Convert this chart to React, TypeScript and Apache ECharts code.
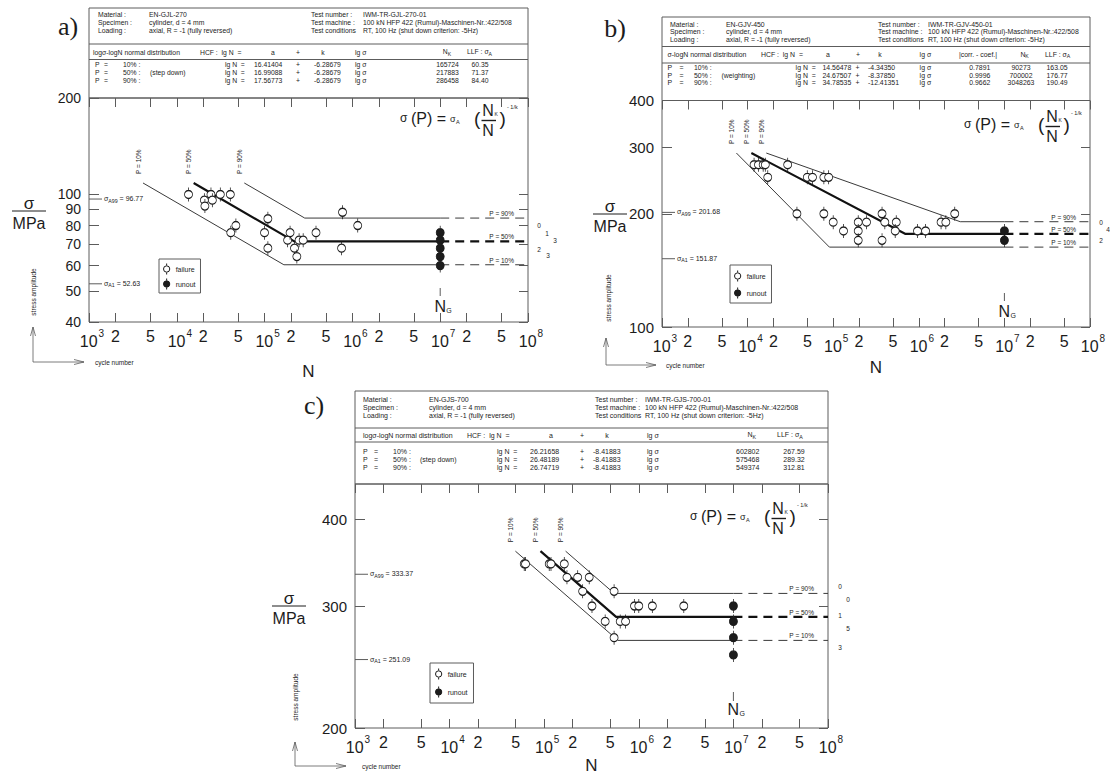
import React, { useEffect, useRef } from 'react';
import * as echarts from 'echarts';

const SANS = '"Liberation Sans", Arial, Helvetica, sans-serif';
const SERIF = '"Liberation Serif", "Times New Roman", Times, serif';
const INK = '#1c1c1c';
const FRAME = '#5c5c5c';
const CURVE = '#3a3a3a';

// ---- shared axis data ----
const N_TICKS = [1e3, 2e3, 5e3, 1e4, 2e4, 5e4, 1e5, 2e5, 5e5, 1e6, 2e6, 5e6, 1e7, 2e7, 5e7, 1e8];
const N_MIN = 1e3;
const N_MAX = 1e8;
const N_G = 1e7;
const P_LABELS = ['P = 10%', 'P = 50%', 'P = 90%'];
const PCT_LABELS = ['10% :', '50% :', '90% :'];
// open / filled circle with a short vertical bar through it
const DOT_SYMBOL = 'path://M5,0L5,2.6M5,11.4L5,14M9,7A4,4,0,1,1,1,7A4,4,0,1,1,9,7Z';

// ---- a) EN-GJL-270 ----
const A_Y_TICKS = [40, 50, 60, 70, 80, 90, 100, 200];
const A_Y_RANGE = [40, 200];
const A_FAILURE: [number, number][] = [
  [13600, 100], [20600, 96], [20900, 92], [24500, 100], [25400, 96], [31300, 100], [40700, 100],
  [41200, 76], [47100, 80], [99800, 76], [109000, 84], [109000, 68], [183000, 72], [195000, 76],
  [219000, 68], [233000, 64], [247000, 72], [275000, 72], [385000, 76], [753000, 68], [772000, 88],
  [1150000, 80],
];
const A_RUNOUT: [number, number][] = [[1e7, 76], [1e7, 72], [1e7, 68], [1e7, 64], [1e7, 60]];
const A_START_N = [4123, 15560, 58740];
const A_START_S = 108.6;
const A_KNEE_N = [165724, 217883, 286458];
const A_KNEE_S = [60.35, 71.37, 84.4];
const A_COEF_A = ['16.41404', '16.99088', '17.56773'];
const A_COEF_K = ['-6.28679', '-6.28679', '-6.28679'];
const A_NOTE = ['', '(step down)', ''];
const A_SIGMA_A99 = 96.77;
const A_SIGMA_A1 = 52.63;
const A_INFO = [
  ['Material :', 'EN-GJL-270', 'Test number :', 'IWM-TR-GJL-270-01'],
  ['Specimen :', 'cylinder, d = 4 mm', 'Test machine :', '100 kN HFP 422 (Rumul)-Maschinen-Nr.:422/508'],
  ['Loading :', 'axial, R = -1 (fully reversed)', 'Test conditions', 'RT, 100 Hz (shut down criterion: -5Hz)'],
];
const A_COUNTS: [string, number, number, number][] = [
  ['0', 11, 2, 7], ['1', 19, 1, -8], ['3', 27, 1, -1], ['2', 11, 1, 8], ['3', 20, 0, -9],
];

// ---- b) EN-GJV-450 ----
const B_Y_TICKS = [100, 200, 300, 400];
const B_Y_RANGE = [100, 400];
const B_FAILURE: [number, number][] = [
  [11900, 270], [13400, 270], [15200, 270], [16100, 270], [17200, 250], [29400, 270], [37700, 200],
  [49800, 250], [57300, 250], [77800, 250], [88500, 250], [77800, 200], [100000, 190], [132000, 180],
  [196000, 190], [196000, 180], [196000, 170], [245000, 190], [372000, 200], [372000, 170],
  [401000, 190], [545000, 190], [530000, 180], [966000, 180], [1200000, 180], [1820000, 190],
  [2070000, 190], [2630000, 200],
];
const B_RUNOUT: [number, number][] = [[1e7, 180], [1e7, 170]];
const B_START_N = [7403, 11063, 16534];
const B_START_S = 290;
const B_KNEE_N = [90273, 700002, 3048263];
const B_KNEE_S = [163.05, 176.77, 190.49];
const B_COEF_A = ['14.56478', '24.67507', '34.78535'];
const B_COEF_K = ['-4.34350', '-8.37850', '-12.41351'];
const B_CORR = ['0.7891', '0.9996', '0.9662'];
const B_NOTE = ['', '(weighting)', ''];
const B_SIGMA_A99 = 201.68;
const B_SIGMA_A1 = 151.87;
const B_INFO = [
  ['Material :', 'EN-GJV-450', 'Test number :', 'IWM-TR-GJV-450-01'],
  ['Specimen :', 'cylinder, d = 4 mm', 'Test machine :', '100 kN HFP 422 (Rumul)-Maschinen-Nr.:422/508'],
  ['Loading :', 'axial, R = -1 (fully reversed)', 'Test conditions', 'RT, 100 Hz (shut down criterion: -5Hz)'],
];
const B_COUNTS: [string, number, number, number][] = [['0', 11, 2, 1], ['4', 18, 1, -4], ['2', 11, 1, 7]];

// ---- c) EN-GJS-700 ----
const C_Y_TICKS = [200, 300, 400];
const C_Y_RANGE = [200, 450];
const C_FAILURE: [number, number][] = [
  [61500, 345], [63500, 345], [113000, 345], [118000, 345], [163000, 345], [174000, 330], [226000, 330],
  [299000, 330], [255000, 315], [320000, 300], [441000, 285], [548000, 315], [548000, 270],
  [636000, 285], [725000, 285], [901000, 300], [1000000, 300], [1390000, 300], [2990000, 300],
];
const C_RUNOUT: [number, number][] = [[1e7, 300], [1e7, 285], [1e7, 270], [1e7, 255]];
const C_START_N = [49610, 91355, 168340];
const C_START_S = 360;
const C_KNEE_N = [602802, 575468, 549374];
const C_KNEE_S = [267.59, 289.32, 312.81];
const C_COEF_A = ['26.21658', '26.48189', '26.74719'];
const C_COEF_K = ['-8.41883', '-8.41883', '-8.41883'];
const C_NOTE = ['', '(step down)', ''];
const C_SIGMA_A99 = 333.37;
const C_SIGMA_A1 = 251.09;
const C_INFO = [
  ['Material :', 'EN-GJS-700', 'Test number :', 'IWM-TR-GJS-700-01'],
  ['Specimen :', 'cylinder, d = 4 mm', 'Test machine :', '100 kN HFP 422 (Rumul)-Maschinen-Nr.:422/508'],
  ['Loading :', 'axial, R = -1 (fully reversed)', 'Test conditions', 'RT, 100 Hz (shut down criterion: -5Hz)'],
];
const C_COUNTS: [string, number, number, number][] = [
  ['0', 12, 2, -7], ['0', 20, 2, 6], ['1', 12, 1, -1], ['5', 20, 1, 12], ['3', 12, 0, 7],
];

// ---- panel layout ----
const PANELS: any[] = [
  {
    tag: ['a)', 68, 26], L: 89, R: 528, top: 98, bottom: 322, tableTop: 8, sep1: 44, sep2: 59.5, fs: 6.8, ySize: 14,
    yTicks: A_Y_TICKS, yRange: A_Y_RANGE, failure: A_FAILURE, runout: A_RUNOUT,
    startN: A_START_N, startS: A_START_S, kneeN: A_KNEE_N, kneeS: A_KNEE_S,
    coefA: A_COEF_A, coefK: A_COEF_K, corr: null, note: A_NOTE, info: A_INFO, counts: A_COUNTS,
    sA99: A_SIGMA_A99, sA1: A_SIGMA_A1, dist: 'log\u03c3-logN normal distribution',
    infoX: [98, 149, 311, 363], infoY: [14.5, 22.5, 30.5],
    head: { y: 52, dist: 93, hcf: 200, a: 273, plus: 298, k: 323, lg: 355, corr: 0, nk: 447, llf: 467 },
    row: { y: [64, 72, 80], P: 95, eq: 104, pct: 123, note: 150, lgN: 225, a: 254, plus: 298, k: 314, lg: 355, corr: 0, nk: 447.5, llf: 480 },
    formula: [400, 118], legend: { left: 159, top: 259, padding: [4, 5, 3, 4], gap: 3 },
    yl: [29, 211], nt: [308.5, 371], sa: [33, 292],
    arrow: { x: 33, yB: 362, yT: 327, xR: 84, tx: 95 }, ng: [34, 26, 16],
  },
  {
    tag: ['b)', 615, 28], L: 662, R: 1090, top: 100.5, bottom: 327, tableTop: 17, sep1: 46.5, sep2: 63, fs: 6.9, ySize: 15,
    yTicks: B_Y_TICKS, yRange: B_Y_RANGE, failure: B_FAILURE, runout: B_RUNOUT,
    startN: B_START_N, startS: B_START_S, kneeN: B_KNEE_N, kneeS: B_KNEE_S,
    coefA: B_COEF_A, coefK: B_COEF_K, corr: B_CORR, note: B_NOTE, info: B_INFO, counts: B_COUNTS,
    sA99: B_SIGMA_A99, sA1: B_SIGMA_A1, dist: '\u03c3-logN normal distribution',
    infoX: [670, 726, 878, 928], infoY: [24, 31.5, 39],
    head: { y: 54.5, dist: 667.5, hcf: 761, a: 828, plus: 858, k: 880, lg: 919.6, corr: 959, nk: 1024.6, llf: 1045 },
    row: { y: [67.5, 75, 82.5], P: 667.5, eq: 679.5, pct: 694, note: 721.5, lgN: 795.6, a: 822.5, plus: 857.6, k: 868, lg: 919.6, corr: 979.8, nk: 1021, llf: 1057 },
    formula: [964, 124], legend: { left: 730, top: 265, padding: [5, 5, 4, 4], gap: 5 },
    yl: [610, 214], nt: [876, 367], sa: [608, 298],
    arrow: { x: 606, yB: 365, yT: 338, xR: 656, tx: 666 }, ng: [34, 26, 16],
  },
  {
    tag: ['c)', 314, 405], L: 355, R: 828, top: 484, bottom: 728, tableTop: 391, sep1: 428, sep2: 442, fs: 7.0, ySize: 15,
    yTicks: C_Y_TICKS, yRange: C_Y_RANGE, failure: C_FAILURE, runout: C_RUNOUT,
    startN: C_START_N, startS: C_START_S, kneeN: C_KNEE_N, kneeS: C_KNEE_S,
    coefA: C_COEF_A, coefK: C_COEF_K, corr: null, note: C_NOTE, info: C_INFO, counts: C_COUNTS,
    sA99: C_SIGMA_A99, sA1: C_SIGMA_A1, dist: 'log\u03c3-logN normal distribution',
    infoX: [363, 429, 595, 645], infoY: [399, 407, 415],
    head: { y: 435, dist: 363, hcf: 467, a: 551, plus: 582, k: 607, lg: 647, corr: 0, nk: 751.7, llf: 777 },
    row: { y: [451.5, 459, 467], P: 363, eq: 374, pct: 393, note: 420, lgN: 497, a: 530, plus: 582, k: 593, lg: 647, corr: 0, nk: 747.7, llf: 794 },
    formula: [690, 516], legend: { left: 430, top: 663, padding: [5, 6, 5, 5], gap: 6 },
    yl: [289, 606], nt: [591.5, 765], sa: [295, 697],
    arrow: { x: 295, yB: 766, yT: 742, xR: 346, tx: 362 }, ng: [36, 27, 19],
  },
];

const fmtN = (v: number) => {
  const e = Math.round(v);
  if (Math.abs(v - e) < 1e-9) return `{p| }{b|10}{e|${e}}`;
  const lead = Math.round(Math.pow(10, v - Math.floor(v + 1e-9)));
  return `{b|${lead}}`;
};
const N_RICH = {
  p: { width: 6, fontSize: 16, verticalAlign: 'bottom' },
  b: { fontSize: 16, fontFamily: SANS, color: INK, verticalAlign: 'bottom' },
  e: { fontSize: 10, fontFamily: SANS, color: INK, verticalAlign: 'top', padding: [0, 0, 11, 1] },
};

function buildOption() {
  const grid: any[] = [];
  const xAxis: any[] = [];
  const yAxis: any[] = [];
  const series: any[] = [];
  const legend: any[] = [];
  const tick = { lineStyle: { color: FRAME, width: 1 } };
  PANELS.forEach((p, i) => {
    grid.push({
      left: p.L, top: p.top, width: p.R - p.L, height: p.bottom - p.top,
      show: true, borderColor: FRAME, borderWidth: 1, backgroundColor: 'transparent',
      containLabel: false, outerBoundsMode: 'none',
    });
    const nt = N_TICKS.map((n) => Math.log10(n));
    const yt = p.yTicks.map((s: number) => Math.log10(s));
    const xMin = Math.log10(N_MIN);
    const xMax = Math.log10(N_MAX);
    const yMin = Math.log10(p.yRange[0]);
    const yMax = Math.log10(p.yRange[1]);
    xAxis.push(
      {
        type: 'value', gridIndex: i, position: 'bottom', min: xMin, max: xMax,
        axisLine: { show: false, onZero: false }, splitLine: { show: false },
        axisTick: { show: true, inside: true, length: 9, customValues: nt, ...tick },
        axisLabel: { show: true, customValues: nt, margin: 6, formatter: fmtN, rich: N_RICH, fontSize: 16, fontFamily: SANS, color: INK },
      },
      {
        type: 'value', gridIndex: i, position: 'top', min: xMin, max: xMax,
        axisLine: { show: false, onZero: false }, splitLine: { show: false },
        axisTick: { show: true, inside: true, length: 9, customValues: nt, ...tick },
        axisLabel: { show: false },
      },
      { type: 'log', gridIndex: i, position: 'bottom', logBase: 10, min: N_MIN, max: N_MAX, show: false },
    );
    yAxis.push(
      {
        type: 'value', gridIndex: i, position: 'left', min: yMin, max: yMax,
        axisLine: { show: false, onZero: false }, splitLine: { show: false },
        axisTick: { show: true, inside: true, length: 10, customValues: yt, ...tick },
        axisLabel: {
          show: true, customValues: yt, margin: 8, fontSize: p.ySize, lineHeight: 13, fontFamily: SANS, color: INK,
          formatter: (v: number) => String(Math.round(Math.pow(10, v))),
        },
      },
      {
        type: 'value', gridIndex: i, position: 'right', min: yMin, max: yMax,
        axisLine: { show: false, onZero: false }, splitLine: { show: false },
        axisTick: { show: true, inside: true, length: 9, customValues: yt, ...tick },
        axisLabel: { show: false },
      },
      { type: 'log', gridIndex: i, position: 'left', logBase: 10, min: p.yRange[0], max: p.yRange[1], show: false },
    );
    const ax = { xAxisIndex: 3 * i + 2, yAxisIndex: 3 * i + 2 };
    [0, 1, 2].forEach((k) => {
      const main = k === 1;
      const ls = { color: main ? '#111' : CURVE, width: main ? 2.2 : 1 };
      series.push({
        type: 'line', name: P_LABELS[k], ...ax, silent: true, symbol: 'none', z: 2,
        data: [[p.startN[k], p.startS], [p.kneeN[k], p.kneeS[k]], [N_G, p.kneeS[k]]],
        lineStyle: { ...ls, type: 'solid' },
      });
      series.push({
        type: 'line', name: P_LABELS[k] + ' ', ...ax, silent: true, symbol: 'none', z: 2,
        data: [[N_G, p.kneeS[k]], [N_MAX, p.kneeS[k]]],
        lineStyle: { ...ls, type: [9, 6] },
      });
    });
    series.push({
      type: 'scatter', name: 'failure', ...ax, silent: true, z: 4, symbol: DOT_SYMBOL, symbolSize: [8, 14],
      data: p.failure, itemStyle: { color: '#fff', borderColor: INK, borderWidth: 1, opacity: 1 },
    });
    series.push({
      type: 'scatter', name: 'runout', ...ax, silent: true, z: 5, symbol: DOT_SYMBOL, symbolSize: [8, 14],
      data: p.runout, itemStyle: { color: INK, borderColor: INK, borderWidth: 1, opacity: 1 },
    });
    legend.push({
      left: p.legend.left, top: p.legend.top, orient: 'vertical', padding: p.legend.padding,
      itemGap: p.legend.gap, itemWidth: 8, itemHeight: 11, borderColor: FRAME, borderWidth: 1,
      backgroundColor: '#fff', selectedMode: false, z: 6,
      textStyle: { fontSize: 7, fontFamily: SANS, color: INK },
      data: [
        { name: 'failure', icon: DOT_SYMBOL, itemStyle: { color: '#fff', borderColor: INK, borderWidth: 1 } },
        { name: 'runout', icon: DOT_SYMBOL, itemStyle: { color: INK, borderColor: INK, borderWidth: 1 } },
      ],
    });
  });
  return { animation: false, backgroundColor: '#fff', grid, xAxis, yAxis, series, legend };
}

// ---- graphic helpers ----
const T = (x: number, y: number, text: string, size: number, align = 'left', family = SANS, extra: any = {}) => ({
  type: 'text', x, y, silent: true, z: 10,
  style: { text, font: `${size}px ${family}`, fill: INK, align, verticalAlign: 'middle', ...extra },
});
const subRich = (size: number) => ({
  m: { font: `${size}px ${SANS}`, fill: INK, verticalAlign: 'top' },
  s: { font: `${(size * 0.75).toFixed(2)}px ${SANS}`, fill: INK, verticalAlign: 'bottom', padding: [3, 0, 0, 0] },
});
const RT = (x: number, y: number, text: string, size: number, align = 'left') => ({
  type: 'text', x, y, silent: true, z: 10,
  style: { text, rich: subRich(size), font: `${size}px ${SANS}`, fill: INK, align, verticalAlign: 'middle' },
});
const LN = (x1: number, y1: number, x2: number, y2: number, w = 1, color = FRAME) => ({
  type: 'line', silent: true, z: 10, shape: { x1, y1, x2, y2 }, style: { stroke: color, lineWidth: w },
});
const PL = (points: number[][], w = 0.8, color = FRAME) => ({
  type: 'polyline', silent: true, z: 10, shape: { points }, style: { stroke: color, lineWidth: w, fill: null },
});

// sigma(P) = sigma_A (N_K / N)^(-1/k)
function formula(fx: number, fy: number) {
  return [
    T(fx, fy, '\u03c3', 12),
    T(fx + 11, fy, '(P) =', 16),
    T(fx + 50, fy + 1, '\u03c3', 9),
    T(fx + 56, fy + 4, 'A', 5.5),
    T(fx + 74, fy, '(', 19),
    T(fx + 88, fy - 8, 'N', 16, 'center'),
    T(fx + 94.5, fy - 4, 'K', 5),
    LN(fx + 81.5, fy + 2.5, fx + 96, fy + 2.5, 1.4, INK),
    T(fx + 88, fy + 12, 'N', 16, 'center'),
    T(fx + 99.5, fy, ')', 19),
    T(fx + 107, fy - 11, '- 1/k', 5.5),
  ];
}

function panelGraphics(chart: any, p: any, i: number) {
  const at = (n: number, s: number) =>
    chart.convertToPixel({ xAxisIndex: 3 * i + 2, yAxisIndex: 3 * i + 2 }, [n, s]) as number[];
  const els: any[] = [];
  const fs = p.fs;

  els.push(T(p.tag[1], p.tag[2], p.tag[0], 26, 'center', SERIF));

  // header table
  els.push({
    type: 'rect', silent: true, z: 10,
    shape: { x: p.L, y: p.tableTop, width: p.R - p.L, height: p.top - p.tableTop },
    style: { fill: null, stroke: FRAME, lineWidth: 1 },
  });
  els.push(LN(p.L, p.sep1, p.R, p.sep1));
  els.push(LN(p.L, p.sep2, p.R, p.sep2));
  p.info.forEach((row: string[], r: number) =>
    row.forEach((t, c) => els.push(T(p.infoX[c], p.infoY[r], t, fs))),
  );
  const h = p.head;
  els.push(T(h.dist, h.y, p.dist, fs));
  els.push(T(h.hcf, h.y, 'HCF :  lg N  =', fs));
  els.push(T(h.a, h.y, 'a', fs, 'center'));
  els.push(T(h.plus, h.y, '+', fs, 'center'));
  els.push(T(h.k, h.y, 'k', fs, 'center'));
  els.push(T(h.lg, h.y, 'lg \u03c3', fs));
  if (p.corr) els.push(T(h.corr, h.y, '|corr. - coef.|', fs));
  els.push(RT(h.nk, h.y, '{m|N}{s|K}', fs, 'center'));
  els.push(RT(h.llf, h.y, '{m|LLF : \u03c3}{s|A}', fs));
  const rw = p.row;
  [0, 1, 2].forEach((k) => {
    const y = rw.y[k];
    els.push(T(rw.P, y, 'P', fs));
    els.push(T(rw.eq, y, '=', fs));
    els.push(T(rw.pct, y, PCT_LABELS[k], fs));
    if (p.note[k]) els.push(T(rw.note, y, p.note[k], fs));
    els.push(T(rw.lgN, y, 'lg N  =', fs));
    els.push(T(rw.a, y, p.coefA[k], fs));
    els.push(T(rw.plus, y, '+', fs, 'center'));
    els.push(T(rw.k, y, p.coefK[k], fs));
    els.push(T(rw.lg, y, 'lg \u03c3', fs));
    if (p.corr) els.push(T(rw.corr, y, p.corr[k], fs, 'center'));
    els.push(T(rw.nk, y, String(p.kneeN[k]), fs, 'center'));
    els.push(T(rw.llf, y, p.kneeS[k].toFixed(2), fs, 'center'));
  });

  // axis titles
  els.push(T(p.yl[0], p.yl[1] - 8, '\u03c3', 17, 'center'));
  els.push(LN(p.yl[0] - 17, p.yl[1], p.yl[0] + 17, p.yl[1], 1, INK));
  els.push(T(p.yl[0], p.yl[1] + 12, 'MPa', 16, 'center'));
  els.push({ ...T(p.sa[0], p.sa[1], 'stress amplitude', 6.5, 'center'), rotation: Math.PI / 2 });
  els.push(T(p.nt[0], p.nt[1], 'N', 17, 'center'));
  const ar = p.arrow;
  els.push(LN(ar.x, ar.yB, ar.x, ar.yT, 0.8));
  els.push(PL([[ar.x - 2.5, ar.yT + 9], [ar.x, ar.yT], [ar.x + 2.5, ar.yT + 9]]));
  els.push(LN(ar.x, ar.yB, ar.xR, ar.yB, 0.8));
  els.push(PL([[ar.xR - 10, ar.yB - 2.5], [ar.xR, ar.yB], [ar.xR - 10, ar.yB + 2.5]]));
  els.push(T(ar.tx, ar.yB, 'cycle number', 6.5));

  // model formula
  els.push(...formula(p.formula[0], p.formula[1]));

  // probability labels at the start of each curve and beside the dashed extensions
  [0, 1, 2].forEach((k) => {
    const [sx, sy] = at(p.startN[k], p.startS);
    els.push({ ...T(sx - 5, sy - 9, P_LABELS[k], 6.5), rotation: Math.PI / 2 });
    const [, ky] = at(N_MAX, p.kneeS[k]);
    els.push(T(p.R - 14, ky - 4.5, P_LABELS[k], 6.5, 'right'));
  });

  // survival-probability endurance limits on the left axis
  [[p.sA99, 'A99'], [p.sA1, 'A1']].forEach(([s, sub]: any) => {
    const [, y] = at(N_MIN, s);
    els.push(LN(p.L, y, p.L + 13, y));
    els.push(RT(p.L + 15, y, `{m|\u03c3}{s|${sub}}{m| = ${s.toFixed(2)}}`, 7));
  });

  // counts beside the right frame
  p.counts.forEach(([t, dx, k, dy]: any) => {
    const [, y] = at(N_MAX, p.kneeS[k]);
    els.push(T(p.R + dx, y + dy, t, 6.5, 'center'));
  });

  // limiting cycle number
  const [gx] = at(N_G, p.yRange[0]);
  els.push(LN(gx, p.bottom - p.ng[0], gx, p.bottom - p.ng[1], 1));
  els.push(T(gx, p.bottom - p.ng[2], 'N', 16, 'center'));
  els.push(T(gx + 6, p.bottom - p.ng[2] + 4, 'G', 7));
  return els;
}

export default function App() {
  const ref = useRef<HTMLDivElement>(null);
  useEffect(() => {
    const chart = echarts.init(ref.current as HTMLDivElement, null, { renderer: 'svg' });
    chart.setOption(buildOption() as any);
    const graphic = PANELS.flatMap((p, i) => panelGraphics(chart, p, i));
    chart.setOption({ graphic } as any);
    return () => chart.dispose();
  }, []);
  return (
    <div
      ref={ref}
      style={{ position: 'absolute', left: 0, top: 0, width: 1110, height: 775, background: '#fff' }}
    />
  );
}
